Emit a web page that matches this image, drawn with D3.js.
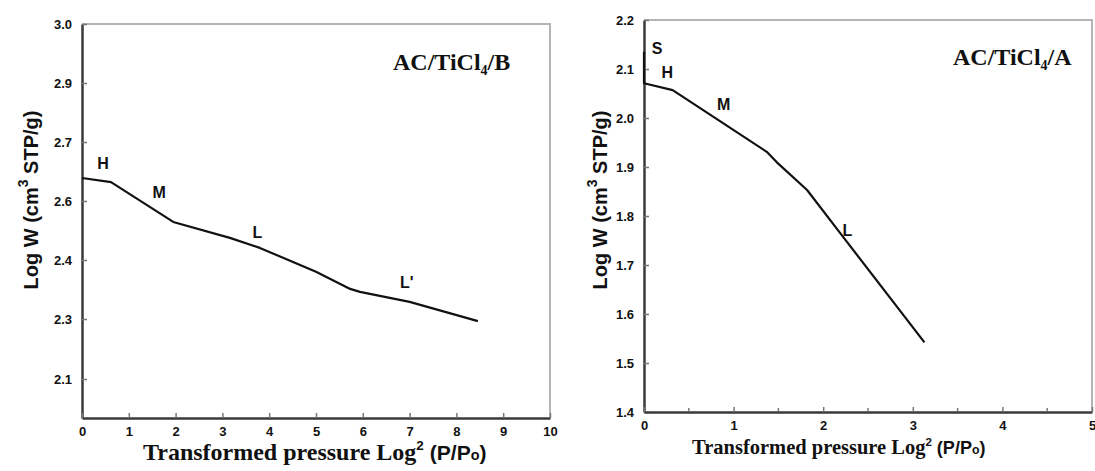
<!DOCTYPE html>
<html>
<head>
<meta charset="utf-8">
<script src="https://cdn.jsdelivr.net/npm/d3@7"></script>
<style>
  body { margin: 0; background: #fff; }
  svg { display: block; }
  .tick text { font-family: "Liberation Sans", Arial, sans-serif; font-weight: bold; font-size: 13px; fill: #111; }
</style>
</head>
<body>
<svg id="chart" width="1095" height="471"></svg>
<script>
// left panel: AC/TiCl4/B
var leftX = [0, 0.62, 1.95, 3.16, 3.8, 5.0, 5.73, 5.94, 7.0, 8.46];
var leftY = [2.639, 2.632, 2.529, 2.475, 2.441, 2.380, 2.351, 2.346, 2.329, 2.293];
var leftYTicks = [3.0, 2.9, 2.7, 2.6, 2.4, 2.3, 2.1];
var leftXTicks = [0, 1, 2, 3, 4, 5, 6, 7, 8, 9, 10];
var leftLabels = [
  {t: "H", x: 0.45, y: 2.655},
  {t: "M", x: 1.65, y: 2.605},
  {t: "L", x: 3.75, y: 2.475},
  {t: "L'", x: 6.94, y: 2.353}
];

// right panel: AC/TiCl4/A
var rightX = [0, 0, 0.32, 1.37, 1.48, 1.82, 2.19, 3.13];
var rightY = [2.135, 2.071, 2.057, 1.931, 1.910, 1.853, 1.765, 1.542];
var rightYTicks = [1.4, 1.5, 1.6, 1.7, 1.8, 1.9, 2.0, 2.1, 2.2];
var rightXTicks = [0, 1, 2, 3, 4, 5];
var rightXMinor = [0.5, 1.5, 2.5, 3.5, 4.5];
var rightLabels = [
  {t: "S", x: 0.145, y: 2.13},
  {t: "H", x: 0.26, y: 2.082},
  {t: "M", x: 0.89, y: 2.016},
  {t: "L", x: 2.27, y: 1.759}
];

window.onload = function() {
  makeCharts();
};

function makeCharts() {
  var svg = d3.select("#chart");

  // the left y axis labels are printed unevenly, so the scale is piecewise
  var xL = d3.scaleLinear().domain([0, 10]).range([82, 550]);
  var yL = d3.scaleLinear()
      .domain([3.0, 2.9, 2.7, 2.6, 2.4, 2.3, 2.1, 1.97])
      .range([24, 83, 142, 201, 260, 319, 379, 418]);

  var xR = d3.scaleLinear().domain([0, 5]).range([644, 1092]);
  var yR = d3.scaleLinear().domain([1.4, 2.2]).range([412, 20]);

  drawPanel(svg, {
    x: xL, y: yL, xs: leftX, ys: leftY,
    yTicks: leftYTicks, xTicks: leftXTicks, xMinor: [],
    labels: leftLabels, fmt: d3.format(".1f"),
    title: "B", titleX: 393, titleY: 70,
    yLabelX: 38, xLabelX: 143, xLabelY: 460, xLabelSize: 24
  });

  drawPanel(svg, {
    x: xR, y: yR, xs: rightX, ys: rightY,
    yTicks: rightYTicks, xTicks: rightXTicks, xMinor: rightXMinor,
    labels: rightLabels, fmt: d3.format(".1f"),
    title: "A", titleX: 953, titleY: 65,
    yLabelX: 607, xLabelX: 692, xLabelY: 454, xLabelSize: 20.5
  });
}

function drawPanel(svg, o) {
  var x = o.x, y = o.y;
  var x0 = x.range()[0], x1 = x.range()[1];
  var yTop = d3.min(y.range()), yBot = d3.max(y.range());
  var g = svg.append("g");

  // light frame on top and right
  g.append("path")
    .attr("d", "M" + x0 + "," + yTop + "H" + x1 + "V" + yBot)
    .attr("fill", "none")
    .attr("stroke", "#b5b5b5")
    .attr("stroke-width", 2);

  var yAxis = d3.axisLeft(y).tickValues(o.yTicks).tickFormat(o.fmt)
      .tickSizeInner(-5).tickSizeOuter(0).tickPadding(10);
  var ya = g.append("g").attr("transform", "translate(" + x0 + ",0)").call(yAxis);

  var xAxis = d3.axisBottom(x).tickValues(o.xTicks).tickFormat(d3.format("d"))
      .tickSizeInner(-5).tickSizeOuter(0).tickPadding(9);
  var xa = g.append("g").attr("transform", "translate(0," + yBot + ")").call(xAxis);

  if (o.xMinor.length) {
    xa.selectAll(".minor").data(o.xMinor).enter().append("line")
      .attr("x1", x).attr("x2", x).attr("y1", 0).attr("y2", -4)
      .attr("stroke", "#777").attr("stroke-width", 1.5);
  }

  [ya, xa].forEach(function(a) {
    a.select(".domain").attr("stroke", "#3a3a3a").attr("stroke-width", 2.5);
    a.selectAll(".tick line").attr("stroke", "#777").attr("stroke-width", 1.5);
  });

  // curve
  var pts = d3.zip(o.xs, o.ys);
  g.append("path")
    .datum(pts)
    .attr("fill", "none")
    .attr("stroke", "#111")
    .attr("stroke-width", 2.2)
    .attr("stroke-linejoin", "round")
    .attr("d", d3.line().x(function(d) { return x(d[0]); }).y(function(d) { return y(d[1]); }));

  // region letters
  g.selectAll(".lab").data(o.labels).enter().append("text")
    .attr("x", function(d) { return x(d.x); })
    .attr("y", function(d) { return y(d.y); })
    .attr("text-anchor", "middle")
    .attr("font-family", "Liberation Sans, Arial, sans-serif")
    .attr("font-weight", "bold")
    .attr("font-size", 16)
    .attr("fill", "#111")
    .text(function(d) { return d.t; });

  // sample title
  var t = g.append("text")
    .attr("x", o.titleX).attr("y", o.titleY)
    .attr("font-family", "Liberation Serif, Times New Roman, serif")
    .attr("font-weight", "bold")
    .attr("font-size", 24)
    .attr("fill", "#111");
  t.append("tspan").text("AC/TiCl");
  t.append("tspan").attr("font-size", 14).attr("dy", 5).text("4");
  t.append("tspan").attr("dy", -5).text("/" + o.title);

  // x axis title
  var s = o.xLabelSize / 25;
  var xt = g.append("text")
    .attr("x", o.xLabelX).attr("y", o.xLabelY)
    .attr("font-weight", "bold")
    .attr("fill", "#111");
  xt.append("tspan").attr("font-family", "Liberation Serif, serif").attr("font-size", o.xLabelSize)
    .text("Transformed pressure Log");
  xt.append("tspan").attr("font-family", "Liberation Sans, sans-serif").attr("font-size", 14 * s)
    .attr("dy", -10 * s).text("2");
  xt.append("tspan").attr("font-family", "Liberation Sans, sans-serif").attr("font-size", 22 * s)
    .attr("dy", 10 * s).text(" (P/P");
  xt.append("tspan").attr("font-family", "Liberation Sans, sans-serif").attr("font-size", 15 * s)
    .text("o");
  xt.append("tspan").attr("font-family", "Liberation Sans, sans-serif").attr("font-size", 22 * s)
    .text(")");

  // y axis title
  var yt = g.append("text")
    .attr("transform", "translate(" + o.yLabelX + ",200) rotate(-90)")
    .attr("text-anchor", "middle")
    .attr("font-family", "Liberation Sans, Arial, sans-serif")
    .attr("font-weight", "bold")
    .attr("font-size", 20)
    .attr("fill", "#111");
  yt.append("tspan").text("Log W (cm");
  yt.append("tspan").attr("font-size", 14).attr("dy", -10).text("3");
  yt.append("tspan").attr("dy", 10).text(" STP/g)");
}
</script>
</body>
</html>
